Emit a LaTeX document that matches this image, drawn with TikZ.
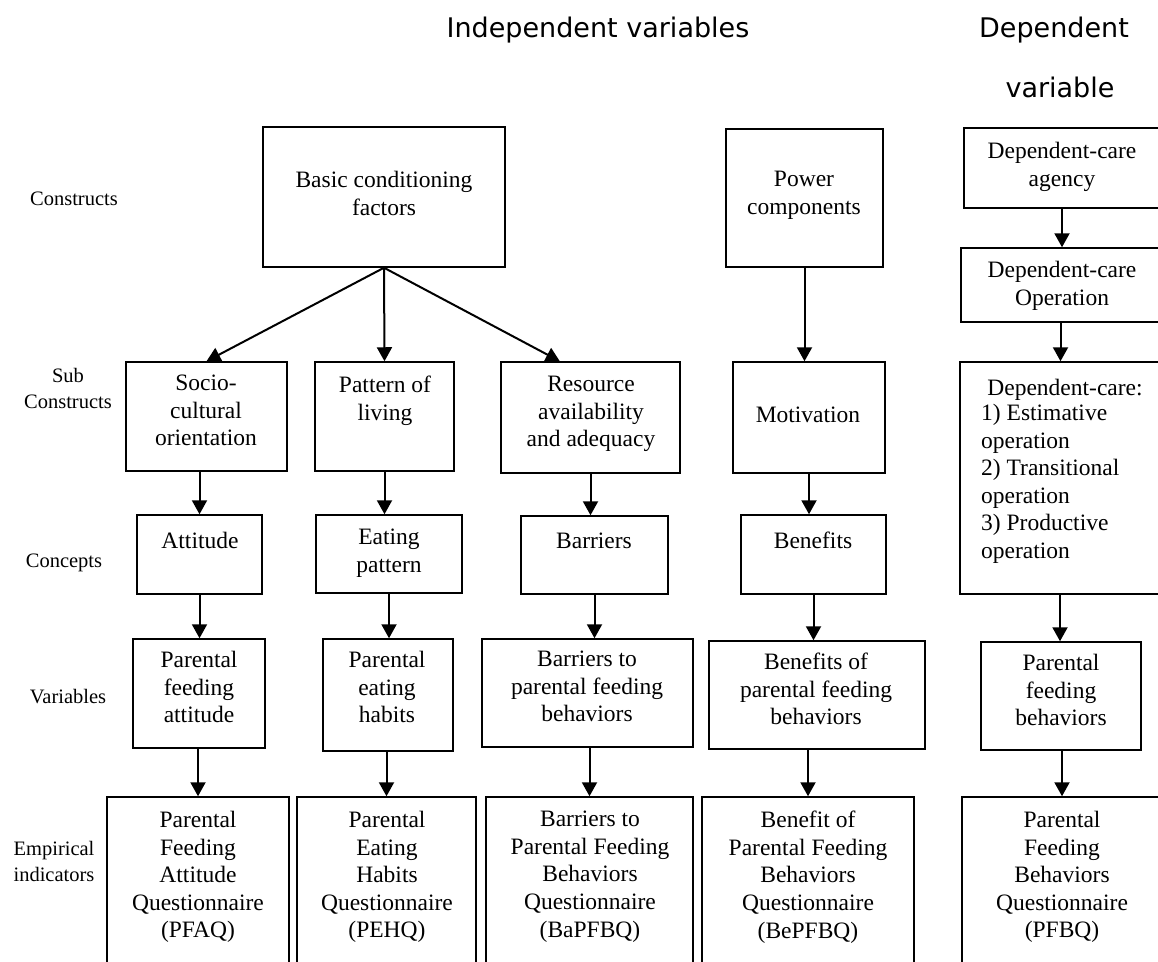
\documentclass[tikz,border=0pt]{standalone}
\usepackage{fontspec}
\setmainfont{Liberation Serif}
\newfontfamily\headfont{DejaVu Sans}
\usetikzlibrary{arrows.meta,fit,calc}
\begin{document}
\begin{tikzpicture}[x=1pt,y=-1pt,
  box/.style={draw, line width=1.5pt, inner sep=0pt},
  boxtext/.style={font=\fontsize{23.5}{27.6}\selectfont, align=center,
    inner sep=0pt, anchor=north, execute at begin node=\strut},
  rowlabel/.style={font=\fontsize{20.5}{26}\selectfont, align=center, inner sep=0pt},
  heading/.style={font=\headfont\fontsize{27}{30}\selectfont, inner sep=0pt},
  arr/.style={-{Triangle[length=14pt,width=15pt]}, line width=2pt}]
\useasboundingbox (0,0) rectangle (1158,961);
\clip (0,0) rectangle (1158,961);

% column headings
\node[heading] (hind) at (598,30) {Independent variables};
\node[heading] (hdep1) at (1054,30) {Dependent};
\node[heading] (hdep2) at (1060,87) {variable};

% row labels
\node[rowlabel] (lcon) at (74,199) {Constructs};
\node[rowlabel] (lsub) at (68,388) {Sub\\Constructs};
\node[rowlabel] (lconc) at (64,563) {Concepts};
\node[rowlabel] (lvar) at (68,697) {Variables};
\node[rowlabel] (lemp) at (54,861) {Empirical\\indicators};

% constructs
\node[box, fit={(263,127) (505,267)}] (basic) {};
\node[box, fit={(726,129) (883,267)}] (power) {};
\node[box, fit={(964,128) (1160,208)}] (agency) {};
\node[box, fit={(961,248) (1160,322)}] (operation) {};
\node[boxtext] (tbasic) at (384,171) {Basic conditioning\\factors};
\node[boxtext] (tpower) at (804,171) {Power\\components};
\node[boxtext] (tagency) at (1062,142) {Dependent-care\\agency};
\node[boxtext] (toperation) at (1062,261) {Dependent-care\\Operation};

% sub constructs
\node[box, fit={(126,362) (287,471)}] (socio) {};
\node[box, fit={(315,362) (454,471)}] (pattern) {};
\node[box, fit={(501,362) (680,473)}] (resource) {};
\node[box, fit={(733,362) (885,473)}] (motivation) {};
\node[box, fit={(960,362) (1160,594)}] (depcare) {};
\node[boxtext] (tsocio) at (206,375) {Socio-\\cultural\\orientation};
\node[boxtext] (tpattern) at (385,376) {Pattern of\\living};
\node[boxtext] (tresource) at (591,376) {Resource\\availability\\and adequacy};
\node[boxtext] (tmotivation) at (808,403) {Motivation};
\node[boxtext] (tdepcare) at (1065,376) {Dependent-care:};
\node[boxtext, align=left, anchor=north west] (tdepsteps) at (981,404)
  {1) Estimative\\operation\\2) Transitional\\operation\\3) Productive\\operation};

% concepts
\node[box, fit={(137,515) (262,594)}] (attitude) {};
\node[box, fit={(316,515) (462,593)}] (eating) {};
\node[box, fit={(521,516) (668,594)}] (barriers) {};
\node[box, fit={(741,515) (886,594)}] (benefits) {};
\node[boxtext] (tattitude) at (200,529) {Attitude};
\node[boxtext] (teating) at (389,529) {Eating\\pattern};
\node[boxtext] (tbarriers) at (594,529) {Barriers};
\node[boxtext] (tbenefits) at (813,529) {Benefits};

% variables
\node[box, fit={(133,639) (265,748)}] (v1) {};
\node[box, fit={(323,639) (453,751)}] (v2) {};
\node[box, fit={(482,639) (693,747)}] (v3) {};
\node[box, fit={(709,641) (925,749)}] (v4) {};
\node[box, fit={(981,642) (1141,750)}] (v5) {};
\node[boxtext] (tv1) at (199,651) {Parental\\feeding\\attitude};
\node[boxtext] (tv2) at (387,651) {Parental\\eating\\habits};
\node[boxtext] (tv3) at (587,651) {Barriers to\\parental feeding\\behaviors};
\node[boxtext] (tv4) at (816,653) {Benefits of\\parental feeding\\behaviors};
\node[boxtext] (tv5) at (1061,654) {Parental\\feeding\\behaviors};

% empirical indicators
\node[box, fit={(107,797) (289,975)}] (e1) {};
\node[box, fit={(297,797) (476,975)}] (e2) {};
\node[box, fit={(486,797) (693,975)}] (e3) {};
\node[box, fit={(702,797) (914,975)}] (e4) {};
\node[box, fit={(962,797) (1162,975)}] (e5) {};
\node[boxtext] (te1) at (198,811) {Parental\\Feeding\\Attitude\\Questionnaire\\(PFAQ)};
\node[boxtext] (te2) at (387,811) {Parental\\Eating\\Habits\\Questionnaire\\(PEHQ)};
\node[boxtext] (te3) at (590,811) {Barriers to\\Parental Feeding\\Behaviors\\Questionnaire\\(BaPFBQ)};
\node[boxtext] (te4) at (808,811) {Benefit of\\Parental Feeding\\Behaviors\\Questionnaire\\(BePFBQ)};
\node[boxtext] (te5) at (1062,811) {Parental\\Feeding\\Behaviors\\Questionnaire\\(PFBQ)};

% connectors: constructs to sub constructs
\draw[arr] (basic.south) -- (socio.north);
\draw[arr] (basic.south) -- (pattern.north);
\draw[arr] (basic.south) -- ($(resource.north west)!0.33!(resource.north east)$);
\draw[arr] (power.south) -- (power.south |- motivation.north);
\draw[arr] (agency.south) -- (agency.south |- operation.north);
\draw[arr] (operation.south) -- (operation.south |- depcare.north);

% sub constructs to concepts
\draw[arr] (attitude.north |- socio.south) -- (attitude.north);
\draw[arr] (pattern.south) -- (pattern.south |- eating.north);
\draw[arr] (resource.south) -- (resource.south |- barriers.north);
\draw[arr] (motivation.south) -- (motivation.south |- benefits.north);

% concepts to variables
\draw[arr] (attitude.south) -- (attitude.south |- v1.north);
\draw[arr] (eating.south) -- (eating.south |- v2.north);
\draw[arr] (barriers.south) -- (barriers.south |- v3.north);
\draw[arr] (benefits.south) -- (benefits.south |- v4.north);
\draw[arr] (depcare.south) -- (depcare.south |- v5.north);

% variables to empirical indicators
\draw[arr] (e1.north |- v1.south) -- (e1.north);
\draw[arr] (e2.north |- v2.south) -- (e2.north);
\draw[arr] (e3.north |- v3.south) -- (e3.north);
\draw[arr] (e4.north |- v4.south) -- (e4.north);
\draw[arr] (e5.north |- v5.south) -- (e5.north);
\end{tikzpicture}
\end{document}
